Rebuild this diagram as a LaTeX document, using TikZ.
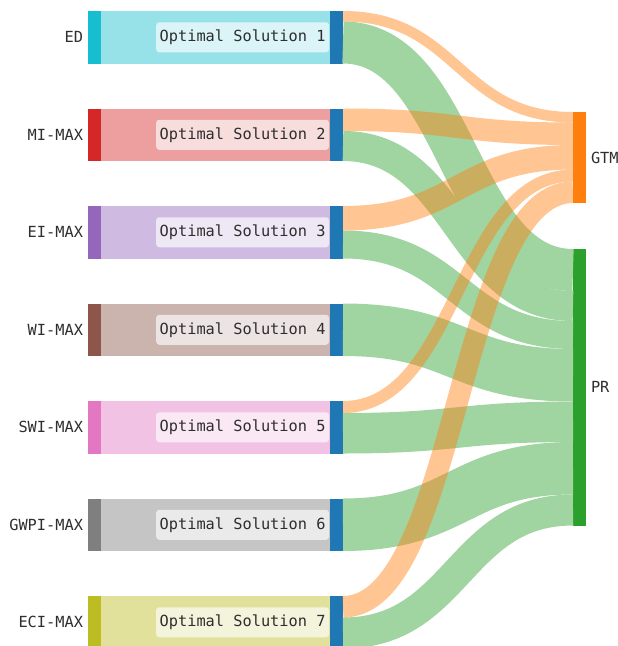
\documentclass[tikz,border=0pt]{standalone}
\usepackage{fontspec}
\setmainfont{DejaVu Sans Mono}
\usetikzlibrary{calc}

\definecolor{txt}{HTML}{2E2E2E}
\definecolor{optblue}{HTML}{1F77B4}
\definecolor{gtmorange}{HTML}{FF7F0E}
\definecolor{prgreen}{HTML}{2CA02C}
\definecolor{edcyan}{HTML}{17BECF}
\definecolor{mired}{HTML}{D62728}
\definecolor{eipurple}{HTML}{9467BD}
\definecolor{wibrown}{HTML}{8C564B}
\definecolor{swipink}{HTML}{E377C2}
\definecolor{gwpigray}{HTML}{7F7F7F}
\definecolor{ecioil}{HTML}{BCBD22}

% band from a source bar to a target bar: #1 source, #2 offset, #3 width,
% #4 target, #5 offset, #6 style
\newcommand{\flow}[6]{%
  \path ($(#1.north east)+(0,#2+#3/2)$) coordinate (s)
        ($(#4.north west)+(0,#5+#3/2)$) coordinate (t);
  \draw[#6, line width=#3pt]
    (s) .. controls ($(s)!0.5!(t |- s)$) and ($(t)!0.5!(s |- t)$) .. (t);
}

\begin{document}
\begin{tikzpicture}[
  x=1pt, y=-1pt,
  every node/.style={inner sep=0pt, outer sep=0pt, text=txt,
    font=\fontsize{15.3}{18}\selectfont},
  strip/.style={minimum width=13pt, minimum height=52.5pt},
  solbox/.style={minimum width=229pt, minimum height=52.5pt},
  optbar/.style={fill=optblue, minimum width=13pt, minimum height=52.5pt},
  tag/.style={fill=white, fill opacity=0.65, text opacity=1, rounded corners=3pt,
    minimum height=30pt, inner xsep=3.5pt},
  prlink/.style={draw=prgreen!45},
  gtmlink/.style={draw=gtmorange, draw opacity=0.45},
]

% page
\fill[white] (0,0) rectangle (618,646);
\useasboundingbox (0,0) rectangle (618,646);

% method rows
\foreach \i/\name/\col in {1/ED/edcyan, 2/MI-MAX/mired, 3/EI-MAX/eipurple,
    4/WI-MAX/wibrown, 5/SWI-MAX/swipink, 6/GWPI-MAX/gwpigray, 7/ECI-MAX/ecioil} {
  \pgfmathsetmacro{\y}{37.25 + (\i-1)*97.5}
  \node[strip, fill=\col] (m\i) at (94.5,\y) {};
  \node[solbox, fill=\col!45] (b\i) at (215.5,\y) {};
  \node[optbar] (opt\i) at (336.5,\y) {};
  \node[anchor=east] at ($(m\i.west)+(-5,0)$) {\name};
  \node[tag, anchor=east] at ($(opt\i.west)+(-1,0)$) {Optimal Solution \i};
}

% targets
\node[fill=gtmorange, minimum width=13pt, minimum height=91pt] (gtm) at (579.5,157.5) {};
\node[fill=prgreen, minimum width=13pt, minimum height=276.5pt] (pr) at (579.5,387.25) {};
\node[anchor=west] at ($(gtm.east)+(5,0)$) {GTM};
\node[anchor=west] at ($(pr.east)+(5,0)$) {PR};

% flows into PR
\flow{opt1}{10.5}{42}{pr}{0}{prlink}
\flow{opt2}{22.5}{30}{pr}{42}{prlink}
\flow{opt3}{24.5}{28}{pr}{72}{prlink}
\flow{opt4}{0}{52.5}{pr}{100}{prlink}
\flow{opt5}{12}{40.5}{pr}{152.5}{prlink}
\flow{opt6}{0}{52.5}{pr}{193}{prlink}
\flow{opt7}{21.5}{31}{pr}{245.5}{prlink}

% flows into GTM
\flow{opt1}{0}{10.5}{gtm}{0}{gtmlink}
\flow{opt2}{0}{22.5}{gtm}{10.5}{gtmlink}
\flow{opt3}{0}{24.5}{gtm}{33}{gtmlink}
\flow{opt5}{0}{12}{gtm}{57.5}{gtmlink}
\flow{opt7}{0}{21.5}{gtm}{69.5}{gtmlink}

\end{tikzpicture}
\end{document}
